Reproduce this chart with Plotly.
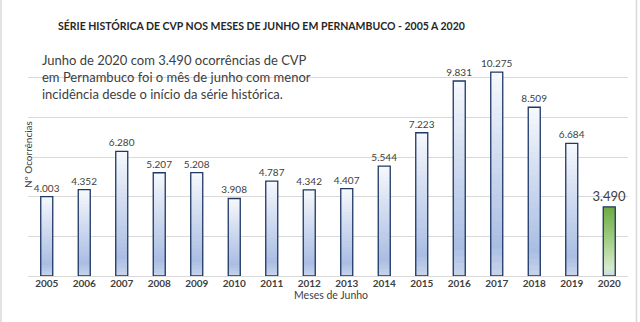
import plotly.graph_objects as go

years = ["2005", "2006", "2007", "2008", "2009", "2010", "2011", "2012",
         "2013", "2014", "2015", "2016", "2017", "2018", "2019", "2020"]
values = [4003, 4352, 6280, 5207, 5208, 3908, 4787, 4342,
          4407, 5544, 7223, 9831, 10275, 8509, 6684, 3490]
highlight_year = "2020"

title_text = "SÉRIE HISTÓRICA DE CVP NOS MESES DE JUNHO EM PERNAMBUCO - 2005 A 2020"
note_lines = ["Junho de 2020 com 3.490 ocorrências de CVP",
              "em Pernambuco foi o mês de junho com menor",
              "incidência desde o início da série histórica."]
x_title = "Meses de Junho"
y_title = "Nº Ocorrências"

# gradient stops (fraction from top, rgb)
blue_stops = [(0.0, (247, 249, 253)), (0.45, (205, 217, 239)),
              (0.85, (170, 190, 227)), (1.0, (200, 213, 235))]
green_stops = [(0.0, (108, 170, 68)), (0.45, (160, 204, 128)),
               (0.88, (214, 234, 203)), (1.0, (200, 218, 228))]


def interp(stops, t):
    for (t0, c0), (t1, c1) in zip(stops[:-1], stops[1:]):
        if t0 <= t <= t1:
            f = (t - t0) / (t1 - t0) if t1 > t0 else 0
            c = [round(a + (b - a) * f) for a, b in zip(c0, c1)]
            return "rgb(%d,%d,%d)" % tuple(c)
    c = stops[-1][1]
    return "rgb(%d,%d,%d)" % c


N = 30
W = 0.32
fig = go.Figure()
# nested bars, tallest first; each shorter bar paints over the lower part
for k in range(N, 0, -1):
    t = 1 - (k - 0.5) / N
    colors = [interp(green_stops if y == highlight_year else blue_stops, t) for y in years]
    fig.add_trace(go.Bar(
        x=years, y=[v * k / N for v in values],
        width=W, marker=dict(color=colors, line=dict(width=0)),
        hoverinfo="skip", showlegend=False))

label_sizes = [13 if y == highlight_year else 10 for y in years]
label_colors = ["#404040" for y in years]
fig.add_trace(go.Bar(
    x=years, y=values, width=W,
    marker=dict(color="rgba(0,0,0,0)", line=dict(color="#1f3864", width=1.3)),
    texttemplate="%{y:,.0f}", textposition="outside", constraintext="none",
    textfont=dict(size=label_sizes, color=label_colors, family="Lato"),
    cliponaxis=False, showlegend=False))

annotations = [
    dict(text="<b>" + title_text + "</b>", x=261, y=17, xref="paper", yref="paper",
         showarrow=False, font=dict(size=10.5, color="#262626", family="Lato")),
    dict(text="<br>".join(note_lines), x=40, y=77, xref="paper", yref="paper",
         xanchor="left", yanchor="middle", align="left", showarrow=False,
         font=dict(size=13, color="#404040", family="Lato")),
    dict(text=x_title, x=331, y=303, xref="paper", yref="paper", showarrow=False,
         font=dict(size=10.5, color="#404040", family="Lato")),
    dict(text=y_title, x=20, y=155, xref="paper", yref="paper", showarrow=False,
         textangle=-90, font=dict(size=10, color="#404040", family="Lato")),
]
# convert pixel coords to paper
L, R, T, B = 28, 12, 38, 46
pw, ph = 640 - L - R, 322 - T - B
for a in annotations:
    a["x"] = (a["x"] - L) / pw
    a["y"] = 1 - (a["y"] - T) / ph

fig.update_layout(
    width=640, height=322, margin=dict(l=L, r=R, t=T, b=B),
    paper_bgcolor="white", plot_bgcolor="white",
    barmode="overlay", separators=",.",
    annotations=annotations,
    xaxis=dict(type="category", showgrid=False, showline=False, ticks="",
               tickfont=dict(size=10, color="#404040", family="Lato", weight="bold")),
    yaxis=dict(range=[0, 12000], dtick=2000, showgrid=True, gridcolor="#d9d9d9",
               gridwidth=1, showticklabels=False, zeroline=True, zerolinecolor="#d9d9d9",
               zerolinewidth=1, fixedrange=True),
    shapes=[
        dict(type="line", xref="paper", yref="paper", x0=-27 / pw, x1=-27 / pw,
             y0=-B / ph, y1=1 + T / ph, line=dict(color="#d9d9d9", width=1.5)),
        dict(type="line", xref="paper", yref="paper", x0=1 + 8.5 / pw, x1=1 + 8.5 / pw,
             y0=-B / ph, y1=1 + T / ph, line=dict(color="#d9d9d9", width=1.5)),
    ],
)
fig.write_html("out.html")
